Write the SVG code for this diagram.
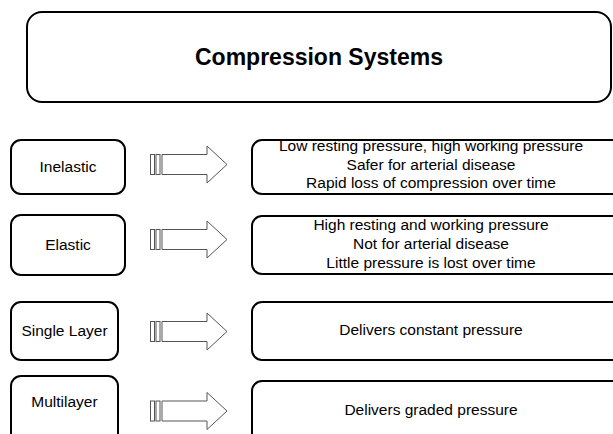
<svg xmlns="http://www.w3.org/2000/svg" width="613" height="434" viewBox="0 0 613 434">
<style>
.box{fill:#fff;stroke:#000;stroke-width:2}
.t{font-family:"Liberation Sans",Arial,sans-serif;font-size:15.5px;fill:#000;text-anchor:middle}
.title{font-family:"Liberation Sans",Arial,sans-serif;font-size:23px;font-weight:bold;fill:#000;text-anchor:middle}
.arr{fill:#fff;stroke:#555;stroke-width:1}
</style>
<defs>
<g id="sarrow">
<rect class="arr" x="150.5" y="-10" width="4" height="20"/>
<rect class="arr" x="156" y="-10" width="4" height="20"/>
<path class="arr" d="M162,-10 H207 V-18.5 L227,0 L207,18.5 V10 H162 Z"/>
</g>
</defs>
<rect width="613" height="434" fill="#fff"/>
<g id="title">
<rect class="box" x="27" y="12" width="584" height="90" rx="15"/>
<text class="title" x="319" y="65">Compression Systems</text>
</g>
<g id="inelastic">
<rect class="box" x="11" y="140" width="114" height="54" rx="10"/>
<text class="t" x="68" y="172">Inelastic</text>
</g>
<g id="elastic">
<rect class="box" x="11" y="215" width="114" height="60" rx="10"/>
<text class="t" x="68" y="250">Elastic</text>
</g>
<g id="single">
<rect class="box" x="11" y="302" width="107" height="58" rx="10"/>
<text class="t" x="64.5" y="336">Single Layer</text>
</g>
<g id="multi">
<rect class="box" x="11" y="376" width="107" height="70" rx="10"/>
<text class="t" x="64.5" y="407">Multilayer</text>
</g>
<g id="inelastic-desc">
<rect class="box" x="252" y="140" width="370" height="54" rx="10"/>
<text class="t" x="431" y="151">Low resting pressure, high working pressure</text>
<text class="t" x="431" y="169.5">Safer for arterial disease</text>
<text class="t" x="431" y="188">Rapid loss of compression over time</text>
</g>
<g id="elastic-desc">
<rect class="box" x="252" y="216" width="370" height="58" rx="10"/>
<text class="t" x="431" y="230">High resting and working pressure</text>
<text class="t" x="431" y="249">Not for arterial disease</text>
<text class="t" x="431" y="268">Little pressure is lost over time</text>
</g>
<g id="single-desc">
<rect class="box" x="252" y="302" width="370" height="58" rx="10"/>
<text class="t" x="431" y="335">Delivers constant pressure</text>
</g>
<g id="multi-desc">
<rect class="box" x="252" y="381" width="370" height="70" rx="10"/>
<text class="t" x="431" y="415">Delivers graded pressure</text>
</g>
<g id="connectors">
<use href="#sarrow" transform="translate(0,164.5)"/>
<use href="#sarrow" transform="translate(0,239.5)"/>
<use href="#sarrow" transform="translate(0,331.5)"/>
<use href="#sarrow" transform="translate(0,411)"/>
</g>
</svg>
